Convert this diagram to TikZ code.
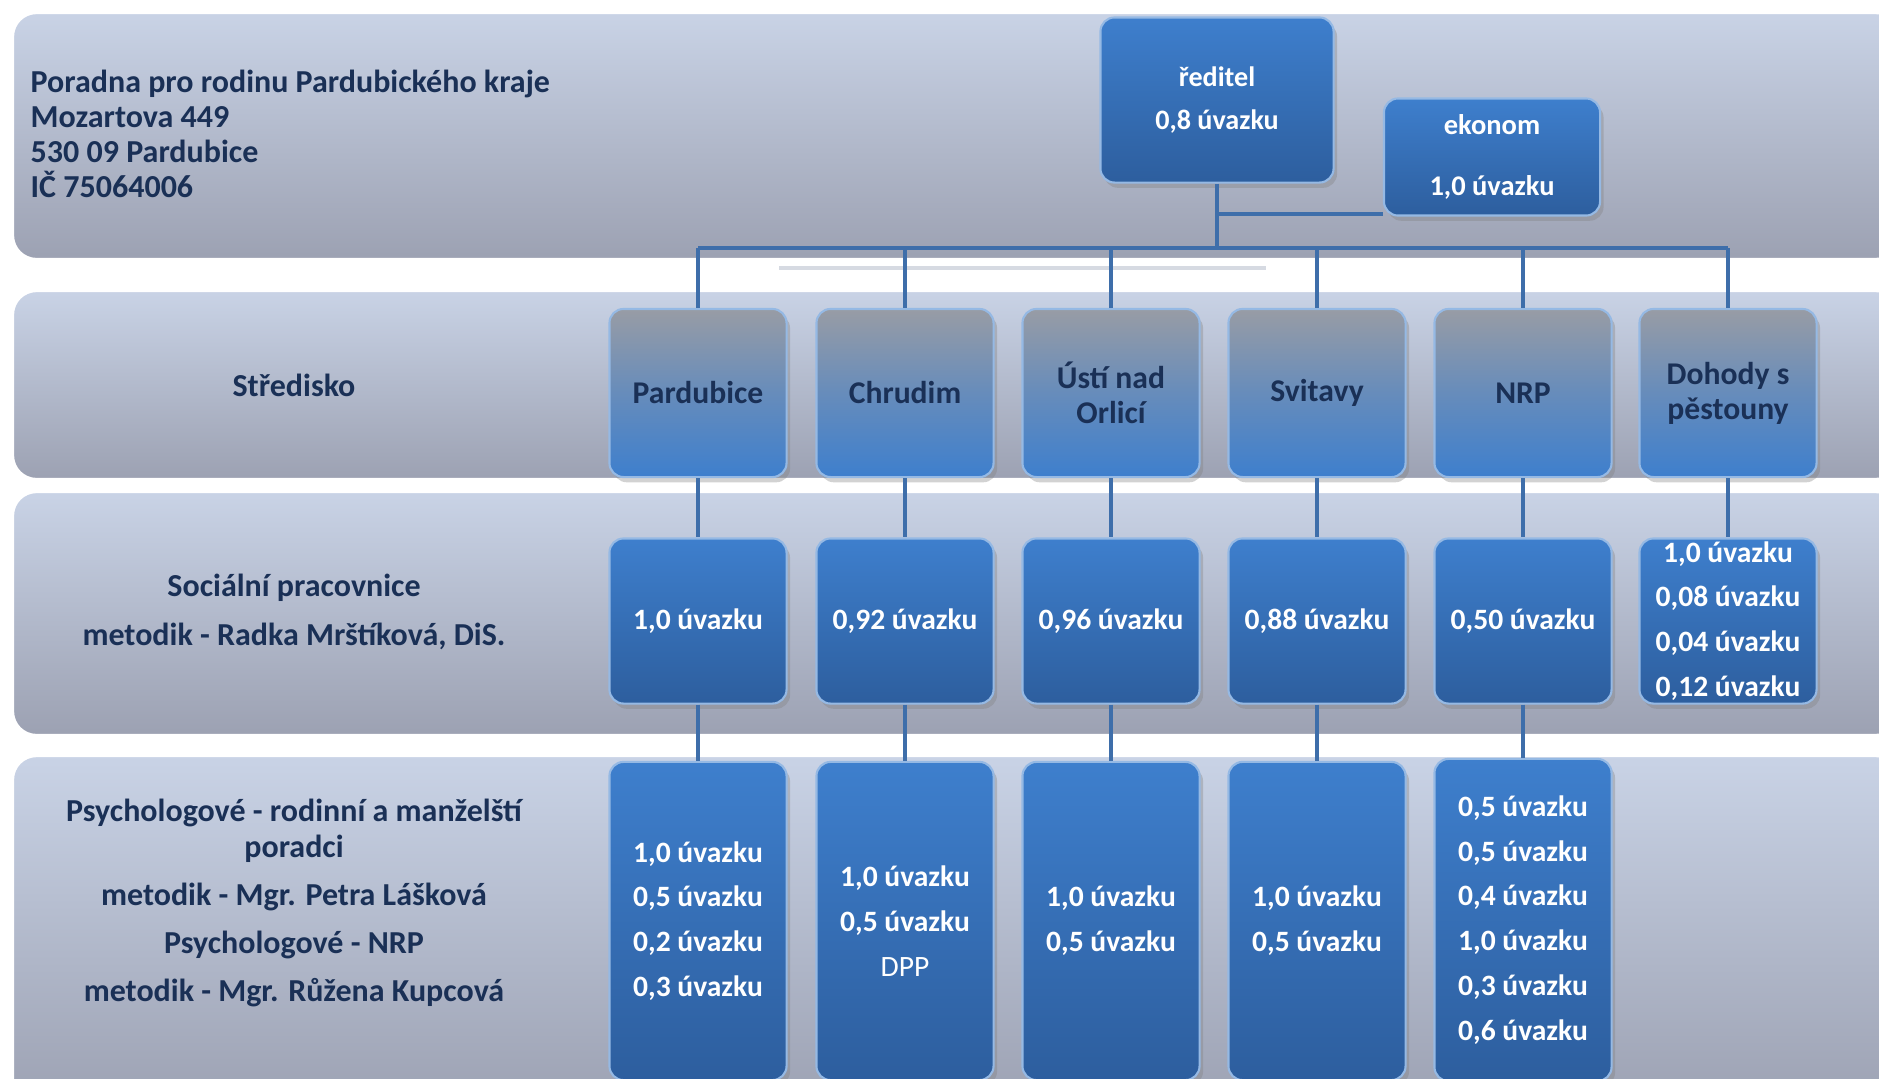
\documentclass[tikz,border=0pt]{standalone}
\usepackage{fontspec}
\setmainfont{Carlito}
\usetikzlibrary{shadows}
\definecolor{navy}{RGB}{26,48,86}
\definecolor{conn}{RGB}{62,110,170}
\definecolor{bandtop}{RGB}{201,211,230}
\definecolor{bandbot}{RGB}{156,161,178}
\definecolor{boxtop}{RGB}{62,127,205}
\definecolor{boxbot}{RGB}{45,94,158}
\definecolor{graytop}{RGB}{152,156,165}
\definecolor{faint}{RGB}{214,218,226}
\begin{document}
\begin{tikzpicture}[x=0.01cm,y=-0.01cm,
  band/.style={rounded corners=7pt, top color=bandtop, bottom color=bandbot, draw=white, line width=1.2pt},
  bluebox/.style={rounded corners=4pt, top color=boxtop, bottom color=boxbot, draw=boxtop!55!white, line width=0.6pt,
    minimum width=1.77cm, text=white, font=\bfseries\fontsize{8.4}{12.76}\selectfont, align=center, inner sep=0pt,
    drop shadow={opacity=0.35, shadow xshift=1pt, shadow yshift=-1.5pt}},
  graybox/.style={bluebox, top color=graytop, bottom color=boxtop, middle color=graytop!45!boxtop, text=navy,
    font=\bfseries\fontsize{9}{9.9}\selectfont},
  lbl/.style={text=navy, font=\bfseries\fontsize{9.1}{10.2}\selectfont, align=center, inner sep=0pt},
  conline/.style={draw=conn, line width=1.15pt}
]
\useasboundingbox (0,0) rectangle (1879,1078);
\fill[white] (0,0) rectangle (1879,1078);
% bands
\path[band] (12,12) rectangle (1900,260);
\path[band] (12,290) rectangle (1900,480);
\path[band] (12,491) rectangle (1900,736);
\path[band] (12,755) rectangle (1900,1110);
\draw[line width=1.1pt, draw=faint] (779,268) -- (1266,268);

% band labels
\node[lbl, align=left, anchor=west, font=\bfseries\fontsize{9.1}{10}\selectfont] (info) at (30,134)
  {Poradna pro rodinu Pardubického kraje\\Mozartova 449\\530 09 Pardubice\\IČ 75064006};
\node[lbl] (lstr) at (294,385) {Středisko};
\node[lbl, font=\bfseries\fontsize{9.1}{13.9}\selectfont] (lsoc) at (294,612) {Sociální pracovnice\\metodik - Radka Mrštíková, DiS.};
\node[lbl] (lpsy) at (294,903) {Psychologové - rodinní a manželští\\poradci\\[3.4pt]metodik - Mgr. Petra Lášková\\[3.4pt]Psychologové - NRP\\[3.4pt]metodik - Mgr. Růžena Kupcová};

% top boxes
\node[bluebox, minimum width=2.33cm, minimum height=1.65cm, font=\bfseries\fontsize{8.0}{12.2}\selectfont] (dir) at (1217,100) {ředitel\\0,8 úvazku};
\node[bluebox, minimum width=2.16cm, minimum height=1.17cm, font=\bfseries\fontsize{8.1}{17.3}\selectfont] (ek) at (1492,157) {ekonom\\1,0 úvazku};

% row 2
\foreach \n/\x/\t in {s1/698/Pardubice, s2/905/Chrudim, s3/1111/{Ústí nad\\Orlicí}, s4/1317/Svitavy, s5/1523/NRP, s6/1728/{Dohody s\\pěstouny}}
  \node[graybox, minimum height=1.68cm] (\n) at (\x,393) {\t};

% row 3
\foreach \n/\x/\t in {a1/698/{1,0 úvazku}, a2/905/{0,92 úvazku}, a3/1111/{0,96 úvazku}, a4/1317/{0,88 úvazku}, a5/1523/{0,50 úvazku}, a6/1728/{1,0 úvazku\\0,08 úvazku\\0,04 úvazku\\0,12 úvazku}}
  \node[bluebox, minimum height=1.65cm] (\n) at (\x,621) {\t};

% row 4
\node[bluebox, minimum height=3.18cm] (b1) at (698,921) {1,0 úvazku\\0,5 úvazku\\0,2 úvazku\\0,3 úvazku};
\node[bluebox, minimum height=3.18cm] (b2) at (905,921) {1,0 úvazku\\0,5 úvazku\\{\mdseries DPP}};
\node[bluebox, minimum height=3.18cm] (b3) at (1111,921) {1,0 úvazku\\0,5 úvazku};
\node[bluebox, minimum height=3.18cm] (b4) at (1317,921) {1,0 úvazku\\0,5 úvazku};
\node[bluebox, minimum height=3.22cm] (b5) at (1523,920) {0,5 úvazku\\0,5 úvazku\\0,4 úvazku\\1,0 úvazku\\0,3 úvazku\\0,6 úvazku};

% connectors
\coordinate (busL) at (698,248);
\coordinate (busR) at (1728,248);
\coordinate (jn) at (1217,214);
\draw[conline] (dir.south) -- (dir.south |- busL);
\draw[conline] (jn) -- (ek.west |- jn);
\draw[conline] (busL) -- (busR);
\foreach \i in {1,...,6} \draw[conline] (s\i.north |- busL) -- (s\i.north);
\foreach \i in {1,...,6} \draw[conline] (s\i.south) -- (a\i.north);
\foreach \i in {1,...,5} \draw[conline] (a\i.south) -- (b\i.north);
\end{tikzpicture}
\end{document}
